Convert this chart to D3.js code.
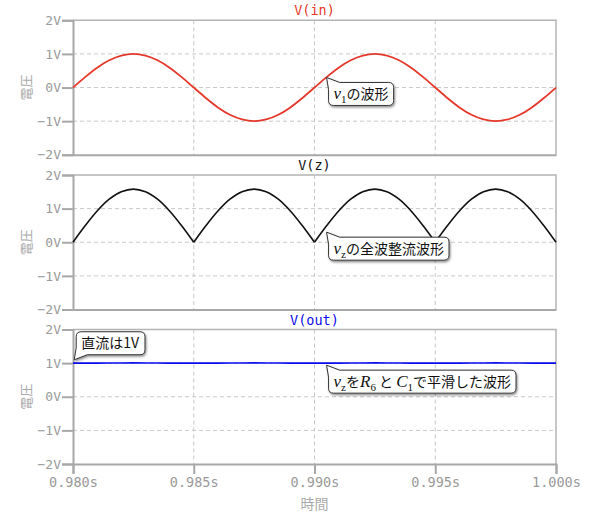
<!DOCTYPE html>
<html>
<head>
    <meta charset="utf-8">
    <script src="https://cdn.jsdelivr.net/npm/d3@7"></script>
</head>

<style>
    body { margin: 0; background: white; }
    .axis path, .axis line { stroke: #a8a8a8; stroke-width: 2; }
    .axis text { fill: #9a9a9a; font-family: "DejaVu Sans Mono", monospace; }
    .grid line { stroke: #c8c8c8; stroke-width: 1; stroke-dasharray: 4,3; }
    .note text { font-family: "Noto Sans CJK JP", sans-serif; font-size: 14px; fill: #111; }
</style>

<body>
<div id="chart"></div>

<script>

    // time axis (s)
    var times = [0.9800, 0.9805, 0.9810, 0.9815, 0.9820, 0.9825, 0.9830, 0.9835, 0.9840, 0.9845,
                 0.9850, 0.9855, 0.9860, 0.9865, 0.9870, 0.9875, 0.9880, 0.9885, 0.9890, 0.9895,
                 0.9900, 0.9905, 0.9910, 0.9915, 0.9920, 0.9925, 0.9930, 0.9935, 0.9940, 0.9945,
                 0.9950, 0.9955, 0.9960, 0.9965, 0.9970, 0.9975, 0.9980, 0.9985, 0.9990, 0.9995,
                 1.0000];

    // V(in)
    var vin = [0, 0.31, 0.59, 0.81, 0.95, 1.00, 0.95, 0.81, 0.59, 0.31,
               0, -0.31, -0.59, -0.81, -0.95, -1.00, -0.95, -0.81, -0.59, -0.31,
               0, 0.31, 0.59, 0.81, 0.95, 1.00, 0.95, 0.81, 0.59, 0.31,
               0, -0.31, -0.59, -0.81, -0.95, -1.00, -0.95, -0.81, -0.59, -0.31,
               0];

    // V(z)
    var vz = [0, 0.49, 0.93, 1.28, 1.50, 1.58, 1.50, 1.28, 0.93, 0.49,
              0, 0.49, 0.93, 1.28, 1.50, 1.58, 1.50, 1.28, 0.93, 0.49,
              0, 0.49, 0.93, 1.28, 1.50, 1.58, 1.50, 1.28, 0.93, 0.49,
              0, 0.49, 0.93, 1.28, 1.50, 1.58, 1.50, 1.28, 0.93, 0.49,
              0];

    // V(out)
    var vout = [1.000, 1.000, 1.000, 1.002, 1.004, 1.006, 1.005, 1.003, 1.001, 1.000,
                1.000, 1.000, 1.001, 1.003, 1.005, 1.006, 1.005, 1.003, 1.001, 1.000,
                1.000, 1.000, 1.001, 1.003, 1.005, 1.006, 1.005, 1.003, 1.001, 1.000,
                1.000, 1.000, 1.001, 1.003, 1.005, 1.006, 1.005, 1.003, 1.001, 1.000,
                1.000];

    var panelTitles = ['V(in)', 'V(z)', 'V(out)'];
    var panelColors = ['#e5372a', '#111111', '#0a0af0'];
    var panelSeries = [vin, vz, vout];

    var yTicks = [-2, -1, 0, 1, 2];
    var xTicks = [0.980, 0.985, 0.990, 0.995, 1.000];

    // callouts: panel, anchor time, anchor value, text pieces
    var notePanels = [0, 1, 2, 2];
    var noteTimes = [0.9905, 0.9905, 0.98005, 0.9905];
    var noteValues = [0.3, 0.3, 1.1, 0.94];
    var noteDirs = ['down', 'down', 'up', 'down'];
    var noteTexts = [
        [['v', 'm'], ['1', 's'], ['の波形', 'j']],
        [['v', 'm'], ['z', 's'], ['の全波整流波形', 'j']],
        [['直流は1V', 'j']],
        [['v', 'm'], ['z', 's'], ['を', 'j'], ['R', 'm'], ['6', 's'], [' と ', 'j'], ['C', 'm'], ['1', 's'], ['で平滑した波形', 'j']]
    ];

    var width = 600, height = 519;
    var padding = { left: 73, right: 44 };
    var panelTops = [20.3, 175, 329.5];
    var panelHeight = 134.5;

    var svg = d3.select('#chart').append('svg')
        .attr('width', width)
        .attr('height', height);

    var defs = svg.append('defs');
    var shadow = defs.append('filter').attr('id', 'shadow')
        .attr('x', '-20%').attr('y', '-30%').attr('width', '140%').attr('height', '170%');
    shadow.append('feDropShadow')
        .attr('dx', 1).attr('dy', 1.5).attr('stdDeviation', 1.2)
        .attr('flood-color', '#000').attr('flood-opacity', 0.45);

    var xScale = d3.scaleLinear()
        .domain([0.980, 1.000])
        .range([padding.left, width - padding.right]);

    var yScales = panelTops.map(function(top) {
        return d3.scaleLinear().domain([-2, 2]).range([top + panelHeight, top]);
    });

    panelTops.forEach(function(top, i) {
        var yScale = yScales[i];
        var g = svg.append('g');

        // grid
        g.append('g').attr('class', 'grid')
            .selectAll('line.h')
            .data([-1, 0, 1])
            .enter().append('line')
            .attr('x1', xScale.range()[0]).attr('x2', xScale.range()[1])
            .attr('y1', function(d) { return yScale(d); })
            .attr('y2', function(d) { return yScale(d); });
        g.append('g').attr('class', 'grid')
            .selectAll('line.v')
            .data([0.985, 0.990, 0.995])
            .enter().append('line')
            .attr('y1', top).attr('y2', top + panelHeight)
            .attr('x1', function(d) { return xScale(d); })
            .attr('x2', function(d) { return xScale(d); });

        // frame top / right
        g.append('path')
            .attr('d', 'M' + xScale.range()[0] + ',' + top + 'H' + xScale.range()[1] + 'V' + (top + panelHeight))
            .attr('fill', 'none')
            .attr('stroke', '#b4b4b4')
            .attr('stroke-width', 1.5);

        // y axis
        var yAxis = g.append('g')
            .attr('class', 'axis')
            .attr('transform', 'translate(' + padding.left + ',0)')
            .call(d3.axisLeft(yScale).tickValues(yTicks).tickSize(11).tickPadding(1)
                .tickFormat(function(d) { return d3.format('')(d) + 'V'; }));
        yAxis.selectAll('text').style('font-size', '13px');

        // x axis
        var xAxis = g.append('g')
            .attr('class', 'axis')
            .attr('transform', 'translate(0,' + (top + panelHeight) + ')')
            .call(d3.axisBottom(xScale).tickValues(xTicks)
                .tickSize(i === 2 ? 10 : 0)
                .tickFormat(function(d) { return d3.format('.3f')(d) + 's'; }));
        xAxis.selectAll('text')
            .style('font-size', '13.5px')
            .style('display', i === 2 ? null : 'none');
        xAxis.select('.domain').attr('stroke', '#a8a8a8');

        // y label
        svg.append('text')
            .attr('transform', 'translate(31,' + (top + panelHeight / 2) + ') rotate(-90)')
            .attr('text-anchor', 'middle')
            .style('font-family', '"Noto Sans CJK JP", sans-serif')
            .style('font-size', '13px')
            .style('fill', '#aaaaaa')
            .text('電圧');

        // title
        svg.append('text')
            .attr('x', (xScale.range()[0] + xScale.range()[1]) / 2)
            .attr('y', top - 5)
            .attr('text-anchor', 'middle')
            .style('font-family', '"DejaVu Sans Mono", monospace')
            .style('font-size', '13.5px')
            .style('fill', panelColors[i])
            .text(panelTitles[i]);

        // series
        var pts = times.map(function(t, k) { return [t, panelSeries[i][k]]; });
        var line = d3.line()
            .x(function(d) { return xScale(d[0]); })
            .y(function(d) { return yScale(d[1]); });

        var segments;
        if (i === 1) {
            // split at the cusps so the rectified arches keep their corners
            segments = [];
            var cur = [];
            pts.forEach(function(p, k) {
                cur.push(p);
                if (p[1] === 0 && k > 0) { segments.push(cur); cur = [p]; }
            });
            line.curve(d3.curveCatmullRom);
        } else {
            segments = [pts];
            line.curve(i === 0 ? d3.curveCatmullRom : d3.curveLinear);
        }

        g.selectAll('path.series')
            .data(segments)
            .enter().append('path')
            .attr('class', 'series')
            .attr('fill', 'none')
            .attr('stroke', panelColors[i])
            .attr('stroke-width', i === 0 ? 1.8 : 1.6)
            .attr('d', line);
    });

    // x axis label
    svg.append('text')
        .attr('x', (xScale.range()[0] + xScale.range()[1]) / 2)
        .attr('y', 509)
        .attr('text-anchor', 'middle')
        .style('font-family', '"Noto Sans CJK JP", sans-serif')
        .style('font-size', '14px')
        .style('fill', '#aaaaaa')
        .text('時間');

    // callouts
    notePanels.forEach(function(p, n) {
        var tipX = xScale(noteTimes[n]);
        var tipY = yScales[p](noteValues[n]);
        var g = svg.append('g').attr('class', 'note');
        var box = g.append('path');
        var text = g.append('text');

        noteTexts[n].forEach(function(piece) {
            var span = text.append('tspan').text(piece[0]);
            if (piece[1] === 'm') {
                span.style('font-family', '"Liberation Serif", "DejaVu Serif", serif')
                    .style('font-style', 'italic')
                    .style('font-size', '17px');
            } else if (piece[1] === 's') {
                span.style('font-family', '"Liberation Serif", "DejaVu Serif", serif')
                    .style('font-size', '11px')
                    .attr('dy', 4);
            } else {
                span.attr('dy', text.selectAll('tspan').size() > 1 ? -4 : 0);
            }
        });
        // undo stray offsets: subscripts are followed by normal text
        text.selectAll('tspan').each(function(d, k, nodes) {
            var s = d3.select(this);
            if (k > 0) {
                var prev = noteTexts[n][k - 1][1];
                var curK = noteTexts[n][k][1];
                if (curK === 's') s.attr('dy', 4);
                else if (prev === 's') s.attr('dy', -4);
                else s.attr('dy', null);
            }
        });

        var bb = text.node().getBBox();
        var w = bb.width + 10, h = 23, r = 5;
        var x0 = tipX + 2;
        var y0 = noteDirs[n] === 'down' ? tipY + 5 : tipY - 5 - h;
        text.attr('x', x0 + 5).attr('y', y0 + 16.5);

        var d;
        if (noteDirs[n] === 'down') {
            d = 'M' + tipX + ',' + tipY +
                'L' + (x0 + 11) + ',' + y0 +
                'H' + (x0 + w - r) +
                'Q' + (x0 + w) + ',' + y0 + ' ' + (x0 + w) + ',' + (y0 + r) +
                'V' + (y0 + h - r) +
                'Q' + (x0 + w) + ',' + (y0 + h) + ' ' + (x0 + w - r) + ',' + (y0 + h) +
                'H' + (x0 + r) +
                'Q' + x0 + ',' + (y0 + h) + ' ' + x0 + ',' + (y0 + h - r) +
                'V' + (y0 + 7) + 'Z';
        } else {
            d = 'M' + tipX + ',' + tipY +
                'L' + x0 + ',' + (y0 + h - 7) +
                'V' + (y0 + r) +
                'Q' + x0 + ',' + y0 + ' ' + (x0 + r) + ',' + y0 +
                'H' + (x0 + w - r) +
                'Q' + (x0 + w) + ',' + y0 + ' ' + (x0 + w) + ',' + (y0 + r) +
                'V' + (y0 + h - r) +
                'Q' + (x0 + w) + ',' + (y0 + h) + ' ' + (x0 + w - r) + ',' + (y0 + h) +
                'H' + (x0 + 11) + 'Z';
        }
        box.attr('d', d)
            .attr('fill', 'white')
            .attr('stroke', '#333')
            .attr('stroke-width', 1)
            .attr('filter', 'url(#shadow)');
    });

</script>
</body>
</html>
